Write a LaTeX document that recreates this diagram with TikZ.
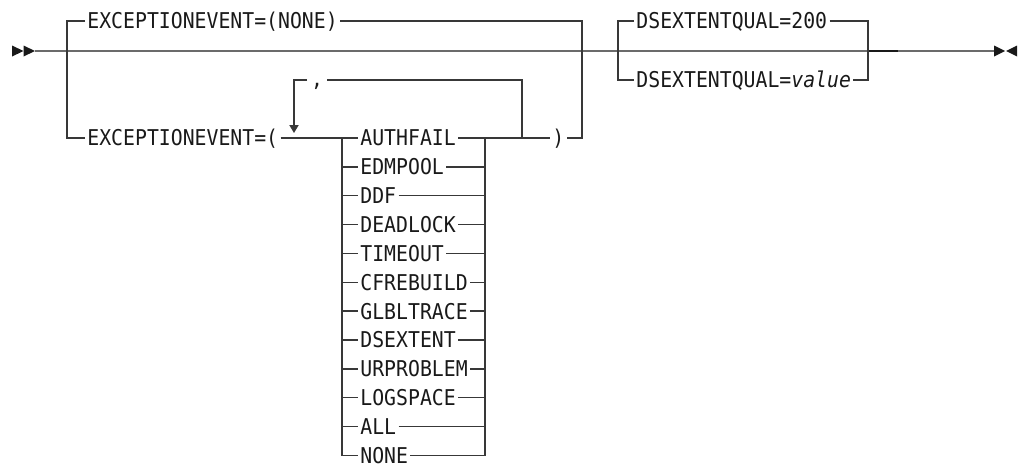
\documentclass[tikz,border=0pt]{standalone}
\usepackage{fontspec}
\setmonofont[FakeStretch=0.91]{DejaVu Sans Mono}
\usepackage{tikz}
\usetikzlibrary{
    arrows.meta,
    positioning,
    calc
}

\begin{document}
\begin{tikzpicture}[x=0.5pt,y=-0.5pt,
		kw/.style={anchor=west,inner sep=0pt,outer sep=1.2pt,text=black!90,
			font=\ttfamily\fontsize{10.88}{12}\selectfont,text height=7.9pt,text depth=0pt},
		sepkw/.style={kw,anchor=center,outer sep=2pt,text height=6.5pt},
		rail/.style={draw=black!78,line width=0.7pt},
		mainrail/.style={draw=black!58,line width=1pt},
		endtip/.style={fill=black!90}]
				\useasboundingbox (0,0) rectangle (1022,467);
				% main line
				\coordinate (start) at (35,51);
				\coordinate (brL) at (67,51);
				\coordinate (brR) at (582,51);
				\coordinate (dsL) at (618,51);
				\coordinate (dsR) at (868,51);
				\coordinate (dsJ) at (898,51);
				\coordinate (stop) at (994,51);
				\draw[mainrail] (start) -- (stop);
				\draw[black!90,line width=1.2pt] (dsR) -- (dsJ);
				\fill[endtip] ($(start)+(-23,-5.5)$) -- ($(start)+(-11.5,0)$) -- ($(start)+(-23,5.5)$) -- cycle;
				\fill[endtip] ($(start)+(-11.5,-5.5)$) -- (start) -- ($(start)+(-11.5,5.5)$) -- cycle;
				\fill[endtip] ($(stop)+(0,-5.5)$) -- ($(stop)+(11,0)$) -- ($(stop)+(0,5.5)$) -- cycle;
				\fill[endtip] ($(stop)+(23,-5.5)$) -- ($(stop)+(12,0)$) -- ($(stop)+(23,5.5)$) -- cycle;
				% EXCEPTIONEVENT
				\node at (85,21) [kw] (exnone) {EXCEPTIONEVENT=(NONE)};
				\node at (85,138) [kw] (exlist) {EXCEPTIONEVENT=(};
				\node at (550,138) [kw] (rparen) {)};
				\draw[rail] (exnone.west) -| (brL) |- (exlist.west);
				\draw[rail] (exnone.east) -| (brR) |- (rparen.east);
				% repeat loop
				\coordinate (loopL) at (294,138);
				\coordinate (loopR) at (522,138);
				\coordinate (lstL) at (342,138);
				\coordinate (lstR) at (485,138);
				\node at (317,80) [sepkw] (sep) {,};
				\draw[rail] (loopR) |- (sep.east);
				\draw[rail,-{Triangle[length=4pt,width=4.6pt]},shorten >=2.5pt] (sep.west) -| (loopL);
				% event list
				\foreach \w [count=\i from 0] in {AUTHFAIL,EDMPOOL,DDF,DEADLOCK,TIMEOUT,CFREBUILD,
						GLBLTRACE,DSEXTENT,URPROBLEM,LOGSPACE,ALL,NONE} {
					\node at (358,138+28.85*\i) [kw] (opt\i) {\w};
					\draw[rail] (lstL |- opt\i.west) -- (opt\i.west);
					\draw[rail] (opt\i.east) -- (lstR |- opt\i.east);
				}
				\draw[rail] (exlist.east) -- (opt0.west);
				\draw[rail] (opt0.east) -- (rparen.west);
				\draw[rail] (lstL) |- (opt11.west);
				\draw[rail] (opt11.east) -| (lstR);
				% DSEXTENTQUAL
				\node at (634,21) [kw] (dsdef) {DSEXTENTQUAL=200};
				\node at (634,80) [kw] (dsval) {DSEXTENTQUAL=\textit{value}};
				\draw[rail] (dsdef.west) -| (dsL) |- (dsval.west);
				\draw[rail] (dsdef.east) -| (dsR) |- (dsval.east);
			\end{tikzpicture}
\end{document}
